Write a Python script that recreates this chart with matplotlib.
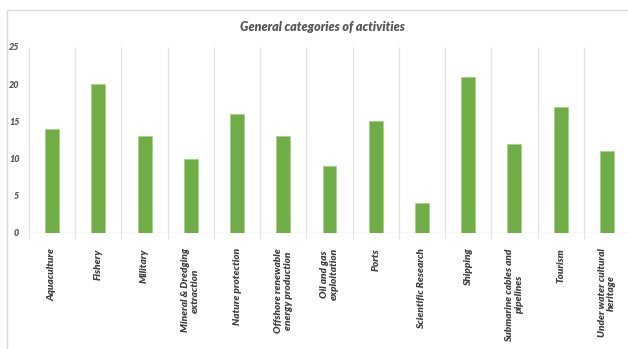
import matplotlib
matplotlib.use("Agg")
import matplotlib.pyplot as plt
import numpy as np
from matplotlib.patches import Rectangle

categories = ["Aquaculture", "Fishery", "Military", "Mineral & Dredging\nextraction",
              "Nature protection", "Offshore renewable\nenergy production",
              "Oil and gas\nexploitation", "Ports", "Scientific Research", "Shipping",
              "Submarine cables and\npipelines", "Tourism", "Under water cultural\nheritage"]
values = [14, 20, 13, 10, 16, 13, 9, 15, 4, 21, 12, 17, 11]
yticks = [0, 5, 10, 15, 20, 25]

W, H = 628, 349
fig = plt.figure(figsize=(W / 100, H / 100), dpi=100)
fig.patch.set_facecolor("white")

# outer chart frame (cropped at right and bottom)
fig.patches.append(Rectangle((7 / W, -0.1), 1.0, (H - 10) / H + 0.1, transform=fig.transFigure,
                             fill=False, edgecolor="#d9d9d9", linewidth=1.0))

font = ["Lato", "DejaVu Sans"]
grey = "#595959"

ax = fig.add_axes([29 / W, (H - 233) / H, 601 / W, 186 / H])
n = len(categories)
x = np.arange(n)
ax.bar(x, values, width=0.30, color="#70ad47", edgecolor="#a9d18e", linewidth=0.6, zorder=3)
ax.set_xlim(-0.5, n - 0.5)
ax.set_ylim(0, 25)

for s in ax.spines.values():
    s.set_visible(False)
ax.axhline(0, color="#d9d9d9", linewidth=1.0, zorder=2)
bounds = np.arange(n + 1) - 0.5
ax.vlines(bounds, -0.75, 25, colors="#e3e3e3", linewidth=0.9, clip_on=False, zorder=1)

ax.set_yticks(yticks)
ax.set_yticklabels([str(t) for t in yticks], family=font, fontsize=6.5, fontweight="heavy",
                   fontstyle="italic", color=grey)
ax.tick_params(axis="y", length=0, pad=7)
ax.set_xticks(x)
ax.set_xticklabels(categories, rotation=90, family=font, fontsize=7.2, fontweight="heavy",
                   fontstyle="italic", color="#404040", ha="center", va="top",
                   multialignment="center", linespacing=1.1)
ax.tick_params(axis="x", length=0, pad=11)

fig.text(322 / W, (H - 27) / H, "General categories of activities", family=font, fontsize=9,
         fontweight="heavy", fontstyle="italic", color=grey, ha="center", va="center")

fig.savefig("out.png", dpi=100, facecolor="white")
